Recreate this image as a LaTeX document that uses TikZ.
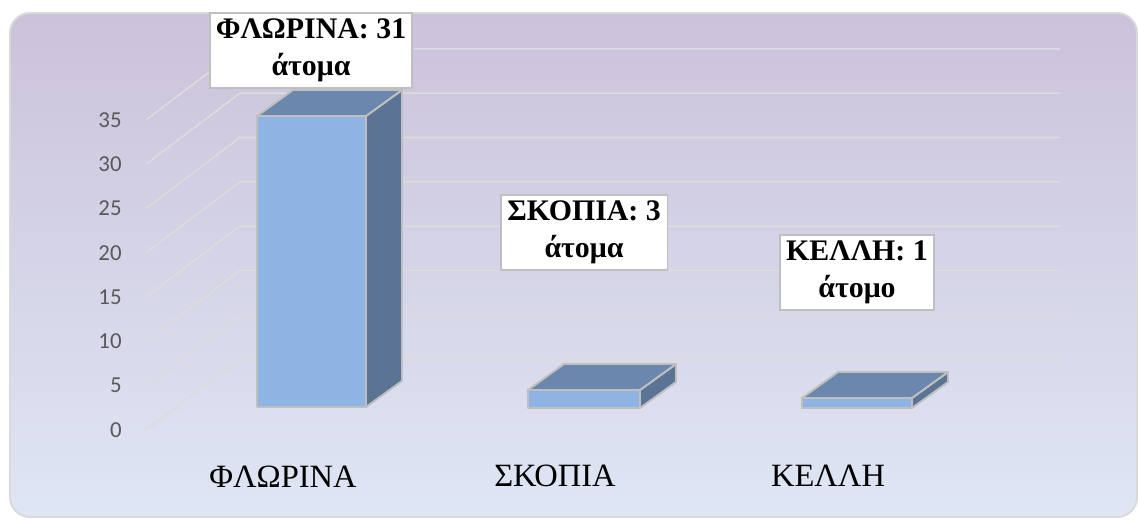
\documentclass[tikz,border=0pt]{standalone}
\usepackage{fontspec}
\setmainfont{Liberation Serif}
\newfontfamily\axisfont{Carlito}
\usepackage{xcolor}
\usepackage{tikz}

\definecolor{bgtop}{HTML}{CBC2DB}
\definecolor{bgmid}{HTML}{C4D2EC}
\definecolor{bgbot}{HTML}{DFE6F4}
\definecolor{framegray}{HTML}{D9D9D9}
\definecolor{gridgray}{HTML}{DCDCDC}
\definecolor{edgegray}{HTML}{BFBFBF}
\definecolor{barfront}{HTML}{8EB4E3}
\definecolor{bartop}{HTML}{6A88AE}
\definecolor{barside}{HTML}{5B7495}
\definecolor{ticktext}{HTML}{595959}

\begin{document}
\begin{tikzpicture}[x=0.02cm, y=-0.02cm,
  grid/.style={draw=gridgray, line width=0.9pt},
  face/.style={draw=edgegray, line width=1.1pt, line join=round},
  tick/.style={anchor=east, inner sep=0pt, text=ticktext, font=\axisfont\fontsize{13}{15}\selectfont},
  category/.style={anchor=base, inner sep=0pt, font=\fontsize{18.5}{22}\selectfont},
  valuebox/.style={draw=edgegray, line width=1.1pt, fill=white, align=center, inner sep=0pt,
    minimum height=42.5pt, font=\bfseries\fontsize{17}{21}\selectfont}]
\useasboundingbox (0, 0) rectangle (1138, 520);

% background
\draw[draw=framegray, line width=1.1pt, rounded corners=0.4cm,
  top color=bgtop, middle color=bgmid, bottom color=bgbot] (10, 13) rectangle (1137, 517);

% gridlines
\draw[grid] (146, 430) -- (240, 359) -- (1060, 359);
\draw[grid] (146, 385.7) -- (240, 314.7) -- (1060, 314.7);
\draw[grid] (146, 341.4) -- (240, 270.4) -- (1060, 270.4);
\draw[grid] (146, 297.1) -- (240, 226.1) -- (1060, 226.1);
\draw[grid] (146, 252.8) -- (240, 181.8) -- (1060, 181.8);
\draw[grid] (146, 208.5) -- (240, 137.5) -- (1060, 137.5);
\draw[grid] (146, 164.2) -- (240, 93.2) -- (1060, 93.2);
\draw[grid] (146, 119.9) -- (240, 48.9) -- (1060, 48.9);

% axis values
\node[tick] (t0) at (122, 430) {0};
\node[tick] (t5) at (122, 385.7) {5};
\node[tick] (t10) at (122, 341.4) {10};
\node[tick] (t15) at (122, 297.1) {15};
\node[tick] (t20) at (122, 252.8) {20};
\node[tick] (t25) at (122, 208.5) {25};
\node[tick] (t30) at (122, 164.2) {30};
\node[tick] (t35) at (122, 119.9) {35};

% bar florina
\draw[face, fill=barfront] (257, 116) rectangle (366, 407);
\draw[face, fill=barside] (366, 407) -- (402, 381) -- (402, 90) -- (366, 116) -- cycle;
\draw[face, fill=bartop] (257, 116) -- (293, 90) -- (402, 90) -- (366, 116) -- cycle;

% bar skopia
\draw[face, fill=barfront] (528, 390) rectangle (640, 408);
\draw[face, fill=barside] (640, 408) -- (676, 382) -- (676, 364) -- (640, 390) -- cycle;
\draw[face, fill=bartop] (528, 390) -- (564, 364) -- (676, 364) -- (640, 390) -- cycle;

% bar kelli
\draw[face, fill=barfront] (802, 398) rectangle (912, 408);
\draw[face, fill=barside] (912, 408) -- (948, 382) -- (948, 372) -- (912, 398) -- cycle;
\draw[face, fill=bartop] (802, 398) -- (838, 372) -- (948, 372) -- (912, 398) -- cycle;

% value labels
\node[valuebox, minimum width=114.5pt] (valFlorina) at (311, 50.5) {ΦΛΩΡΙΝΑ: 31\\άτομα};
\node[valuebox, minimum width=95pt] (valSkopia) at (584, 232.5) {ΣΚΟΠΙΑ: 3\\άτομα};
\node[valuebox, minimum width=88pt] (valKelli) at (857, 272.5) {ΚΕΛΛΗ: 1\\άτομο};

% categories
\node[category] (catFlorina) at (283, 487) {ΦΛΩΡΙΝΑ};
\node[category] (catSkopia) at (555, 486) {ΣΚΟΠΙΑ};
\node[category] (catKelli) at (828, 486) {ΚΕΛΛΗ};
\end{tikzpicture}
\end{document}
